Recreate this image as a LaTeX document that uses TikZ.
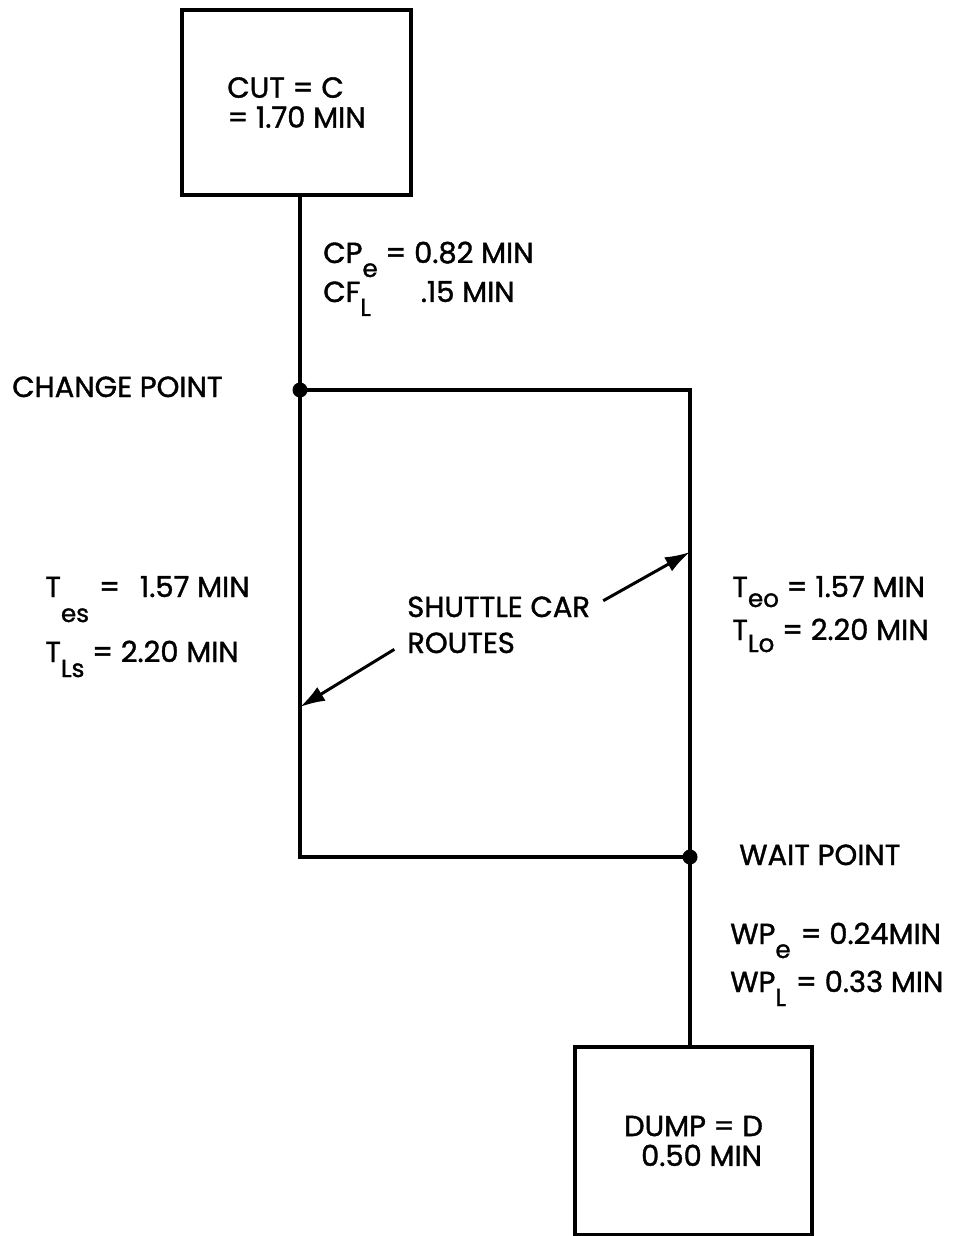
\documentclass[tikz,border=0pt]{standalone}
\usepackage{fontspec}
\setmainfont{Poppins}[BoldFont=Poppins,BoldFeatures={FakeBold=1.3}]
\usetikzlibrary{arrows.meta}
\newcommand{\lw}[2][0.28cm]{\raisebox{-#1}{\fontsize{14}{14}\selectfont #2}}

\begin{document}
\begin{tikzpicture}[line width=2.6pt,>={Latex[length=5mm,width=3.2mm]},
  txt/.style={anchor=base west,inner sep=0pt,font=\fontsize{16.5}{17}\selectfont\bfseries},
  bx/.style={draw,minimum width=4.58cm,minimum height=3.70cm,align=left,
    font=\fontsize{16.5}{17}\selectfont\bfseries},
  pt/.style={circle,fill,inner sep=0pt,minimum size=3mm},
  lead/.style={line width=1.7pt,->,shorten <=0.25cm}]
\useasboundingbox (0,0) rectangle (19.18,-24.72);
% ================= cut and dump =================
\node[bx] (cut) at (5.93,-2.05) {CUT = C\\= 1.70 MIN};
\node[bx,minimum width=4.74cm,minimum height=3.76cm] (dump) at (13.87,-22.82)
  {DUMP = D\\\hspace*{0.34cm}0.50 MIN};
% ================= shuttle car routes =================
\node[pt] (chg) at (6.00,-7.80) {};
\node[pt] (wait) at (13.80,-17.14) {};
\coordinate (ctr) at (13.80,-7.80);
\coordinate (cbl) at (6.00,-17.14);
\draw (chg |- cut.south) -- (chg.center);
\draw (chg.center) -- (ctr) -- (wait.center) -- (cbl) -- cycle;
\draw (wait.center) -- (wait |- dump.north);
% ================= labels =================
\node[txt] (cpe) at (6.42,-5.26) {CP\lw{e} = 0.82 MIN};
\node[txt] (cpl) at (6.42,-6.04) {CF\lw{L}\hspace{1.0cm}.15 MIN};
\node[txt] (chgtxt) at (0.20,-7.94) {CHANGE POINT};
\node[txt] (tes) at (0.86,-11.94) {T\lw[0.5cm]{es}\hspace{0.2cm}=\hspace{0.4cm}1.57 MIN};
\node[txt] (tls) at (0.86,-13.24) {T\lw[0.3cm]{Ls} = 2.20 MIN};
\node[txt] (teo) at (14.60,-11.94) {T\lw[0.2cm]{eo} = 1.57 MIN};
\node[txt] (tlo) at (14.60,-12.80) {T\lw[0.24cm]{Lo} = 2.20 MIN};
\node[txt] (waittxt) at (14.74,-17.30) {WAIT POINT};
\node[txt] (wpe) at (14.56,-18.88) {WP\lw{e}\hspace{0.2cm}= 0.24MIN};
\node[txt] (wpl) at (14.56,-19.84) {WP\lw{L}\hspace{0.2cm}= 0.33 MIN};
% shuttle car routes pointer
\node[txt] (shuttle) at (8.10,-12.34) {SHUTTLE CAR};
\node[txt] (routes) at (8.10,-13.06) {ROUTES};
\coordinate (ra) at (13.80,-11.04);
\coordinate (rb) at (6.00,-14.14);
\draw[lead] (shuttle.east) -- (ra);
\draw[lead] (routes.west) -- (rb);
\end{tikzpicture}
\end{document}
